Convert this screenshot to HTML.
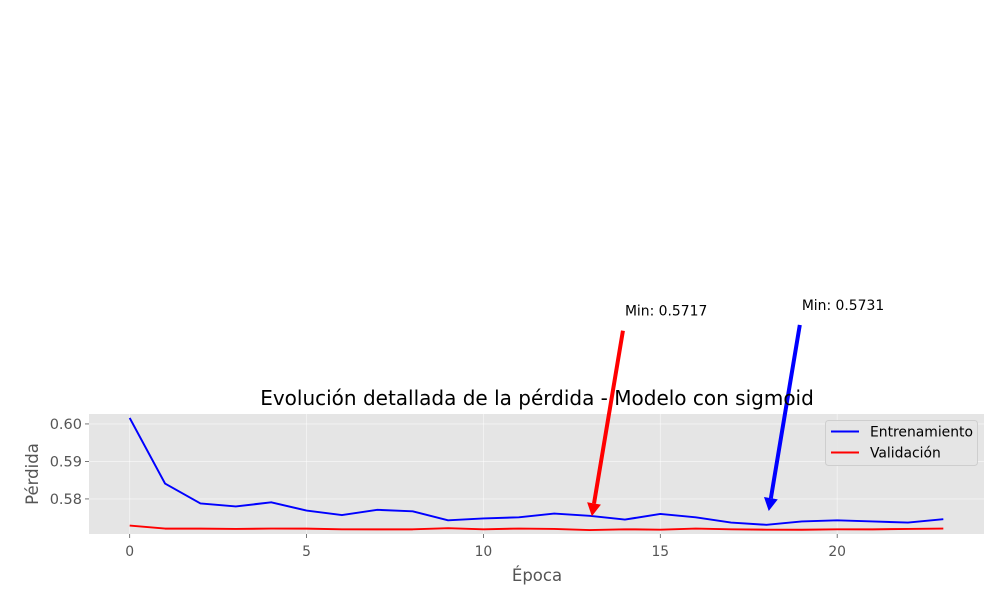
<!DOCTYPE html>
<html><head><meta charset="utf-8"><style>
body{margin:0;background:#fff;}
svg{display:block;font-family:"DejaVu Sans","Liberation Sans",sans-serif;}
</style></head><body>
<svg id="chart" width="1000" height="600"></svg>
<script>
const epochs=[0,1,2,3,4,5,6,7,8,9,10,11,12,13,14,15,16,17,18,19,20,21,22,23];
const trainLoss=[0.6016,0.5841,0.5788,0.5780,0.5791,0.5769,0.5757,0.5771,0.5767,0.5743,0.5748,0.5751,0.5761,0.5755,0.5745,0.5760,0.5751,0.5737,0.5731,0.5740,0.5743,0.5740,0.5737,0.5746];
const valLoss=[0.5729,0.5721,0.5721,0.5720,0.5721,0.5721,0.5719,0.5719,0.5719,0.5722,0.5719,0.5721,0.5720,0.5717,0.5719,0.5718,0.5721,0.5719,0.5718,0.5718,0.5719,0.5719,0.5720,0.5721];
const xTicks=[0,5,10,15,20];
const yTicks=[0.58,0.59,0.60];
const NS="http://www.w3.org/2000/svg";
const svg=document.getElementById('chart');
const L=89,R=984,T=414,B=534;
const xMin=-1.15,xMax=24.15,yMin=0.57065,yMax=0.60265;
const X=v=>L+(v-xMin)/(xMax-xMin)*(R-L);
const Y=v=>B-(v-yMin)/(yMax-yMin)*(B-T);
function mk(tag,attrs,parent){const e=document.createElementNS(NS,tag);for(const k in attrs)e.setAttribute(k,attrs[k]);(parent||svg).appendChild(e);return e;}
let bg=mk('rect',{x:L,y:T,width:R-L,height:B-T,fill:'#e5e5e5'});


xTicks.forEach(t=>{
 let g=mk('line',{x1:X(t),x2:X(t),y1:T,y2:B,stroke:'#fff','stroke-width':0.8,opacity:0.6});
 
 
 let tk=mk('line',{x1:X(t),x2:X(t),y1:B,y2:B+4,stroke:'#555','stroke-width':0.8});
 
 
 let tx=mk('text',{x:X(t),y:B+22,'text-anchor':'middle','font-size':13.9,fill:'#555'});
 tx.textContent=t;
 
 
});
yTicks.forEach(t=>{
 let g=mk('line',{x1:L,x2:R,y1:Y(t),y2:Y(t),stroke:'#fff','stroke-width':0.8,opacity:0.6});
 
 
 let tk=mk('line',{x1:L-4,x2:L,y1:Y(t),y2:Y(t),stroke:'#555','stroke-width':0.8});
 
 
 let tx=mk('text',{x:L-7,y:Y(t)+5,'text-anchor':'end','font-size':14.5,fill:'#555'});
 tx.textContent=t.toFixed(2);
 
 
});
function line(vals,color,name){
 let p=mk('polyline',{points:vals.map((v,i)=>X(epochs[i])+','+Y(v)).join(' '),fill:'none',stroke:color,'stroke-width':2,'stroke-linejoin':'round'});
 
 
}
line(trainLoss,'#0000ff','train-line');
line(valLoss,'#ff0000','validation-line');
function annotate(vals,color,name){
 let mi=0;vals.forEach((v,i)=>{if(v<vals[mi])mi=i;});
 const px=X(epochs[mi]),py=Y(vals[mi]);
 const tx=X(epochs[mi]+1),ty=Y(vals[mi]*1.1);
 let t=mk('text',{x:tx,y:ty,'font-size':13.9,fill:'#000'});
 t.textContent='Min: '+vals[mi].toFixed(4);
 
 
 const sx=tx-2,sy=ty+15;
 const dx=px-sx,dy=py-sy,len=Math.hypot(dx,dy),ux=dx/len,uy=dy/len;
 const ex=px-ux*14,ey=py-uy*14;
 const hx=ex-ux*13,hy=ey-uy*13;
 let g=mk('g',{});
 
 
 mk('line',{x1:sx,y1:sy,x2:hx,y2:hy,stroke:color,'stroke-width':4},g);
 mk('polygon',{points:`${ex},${ey} ${hx-uy*7},${hy+ux*7} ${hx+uy*7},${hy-ux*7}`,fill:color},g);
}
annotate(trainLoss,'#0000ff','train-min');
annotate(valLoss,'#ff0000','validation-min');
</script>
<svg style="position:absolute;left:0;top:0" width="1000" height="600">
<text x="537" y="405" text-anchor="middle" font-size="20" fill="#000">Evolución detallada de la pérdida - Modelo con sigmoid</text>
<text x="537" y="581" text-anchor="middle" font-size="16.5" fill="#555">Época</text>
<text transform="translate(38,474) rotate(-90)" text-anchor="middle" font-size="16.5" fill="#555">Pérdida</text>
<g>
<rect x="825.5" y="420.5" width="152" height="45" rx="3" fill="#e5e5e5" stroke="#ccc" stroke-width="1" opacity="0.9"/>
<line x1="831" x2="859" y1="431.5" y2="431.5" stroke="#0000ff" stroke-width="2"/>
<text x="870" y="436.5" font-size="13.9" fill="#000">Entrenamiento</text>
<line x1="831" x2="859" y1="452.5" y2="452.5" stroke="#ff0000" stroke-width="2"/>
<text x="870" y="457.5" font-size="13.9" fill="#000">Validación</text>
</g>
</svg>
</body></html>
